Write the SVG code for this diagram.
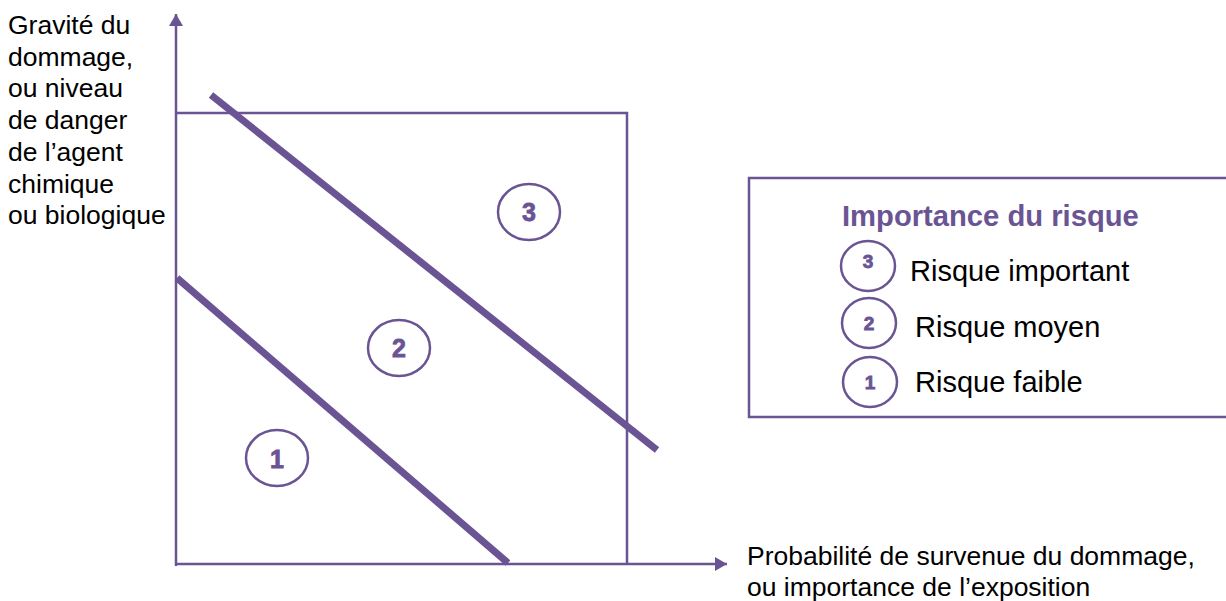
<svg xmlns="http://www.w3.org/2000/svg" width="1226" height="601" viewBox="0 0 1226 601">
<defs>
<style>
.ax{stroke:#6a5494;stroke-width:2.5;fill:none}
.diag{stroke:#6a5494;stroke-width:7;fill:none}
.circ{stroke:#6a5494;stroke-width:2.5;fill:#fff}
.num{font-family:"Liberation Sans",Arial,sans-serif;font-weight:bold;fill:#6a5494;stroke:#6a5494;stroke-width:0.8;text-anchor:middle}
.lbl{font-family:"Liberation Sans",Arial,sans-serif;font-size:26.5px;fill:#000}
.leg{font-family:"Liberation Sans",Arial,sans-serif;font-size:29px;fill:#000}
.title{font-family:"Liberation Sans",Arial,sans-serif;font-size:29.2px;font-weight:bold;fill:#6a5494}
</style>
<marker id="arr" viewBox="0 0 12 14" refX="12" refY="7" markerWidth="12" markerHeight="14" markerUnits="userSpaceOnUse" orient="auto">
<path d="M0,0 L12,7 L0,14 Z" fill="#6a5494"/>
</marker>
</defs>
<rect width="1226" height="601" fill="#fff"/>
<g id="connectors">
<line class="ax" x1="176" y1="566" x2="176" y2="14" marker-end="url(#arr)"/>
<line class="ax" x1="175" y1="564" x2="727" y2="564" marker-end="url(#arr)"/>
<polyline class="ax" points="176,113 627,113 627,564"/>
<line class="diag" x1="211" y1="95" x2="657" y2="450"/>
<line class="diag" x1="177" y1="278" x2="508" y2="563"/>
</g>
<g id="label-y">
<text class="lbl" x="8" y="34">Gravité du</text>
<text class="lbl" x="8" y="65.7">dommage,</text>
<text class="lbl" x="8" y="97.4">ou niveau</text>
<text class="lbl" x="8" y="129">de danger</text>
<text class="lbl" x="8" y="160.8">de l’agent</text>
<text class="lbl" x="8" y="192.5">chimique</text>
<text class="lbl" x="8" y="224">ou biologique</text>
</g>
<g id="label-x">
<text class="lbl" x="747" y="565">Probabilité de survenue du dommage,</text>
<text class="lbl" x="747" y="596">ou importance de l’exposition</text>
</g>
<g id="zone-3">
<ellipse class="circ" cx="529" cy="212" rx="31" ry="28"/>
<text class="num" x="529" y="221" font-size="25">3</text>
</g>
<g id="zone-2">
<ellipse class="circ" cx="399" cy="348" rx="31" ry="28"/>
<text class="num" x="399" y="357" font-size="25">2</text>
</g>
<g id="zone-1">
<ellipse class="circ" cx="277" cy="458" rx="31" ry="28"/>
<text class="num" x="277" y="468" font-size="25">1</text>
</g>
<g id="legend">
<polyline class="ax" points="1226,178 749,178 749,417 1226,417"/>
<text class="title" x="842" y="226">Importance du risque</text>
<ellipse class="circ" cx="868" cy="266" rx="27" ry="25"/>
<text class="num" x="868" y="268" font-size="19">3</text>
<text class="leg" x="910" y="281">Risque important</text>
<ellipse class="circ" cx="869" cy="323" rx="27" ry="25"/>
<text class="num" x="869" y="330" font-size="19">2</text>
<text class="leg" x="915" y="337">Risque moyen</text>
<ellipse class="circ" cx="870" cy="382" rx="27" ry="25"/>
<text class="num" x="870" y="389" font-size="19">1</text>
<text class="leg" x="915" y="392">Risque faible</text>
</g>
</svg>
